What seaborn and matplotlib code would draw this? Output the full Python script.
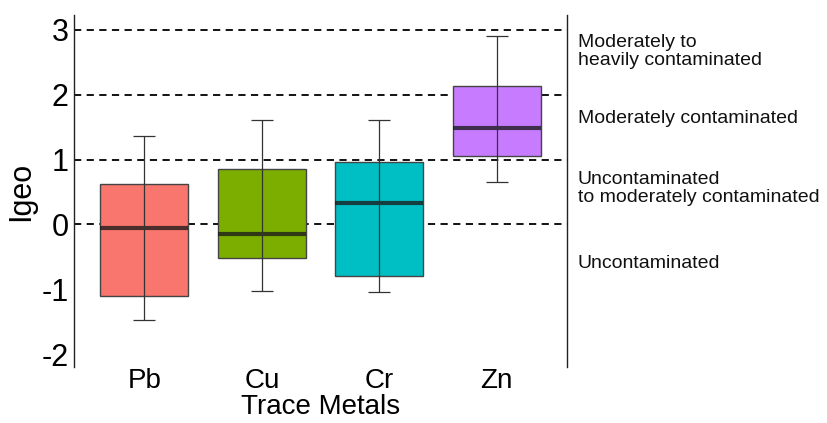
import numpy as np
import pandas as pd
import matplotlib
matplotlib.use("Agg")
import matplotlib.pyplot as plt
import seaborn as sns

# five-number summaries: min, q1, median, q3, max
metals = ["Pb", "Cu", "Cr", "Zn"]
pb = [-1.47, -1.10, -0.05, 0.63, 1.36]
cu = [-1.03, -0.52, -0.145, 0.85, 1.61]
cr = [-1.04, -0.80, 0.33, 0.96, 1.61]
zn = [0.66, 1.05, 1.49, 2.13, 2.91]
colors = ["#F8766D", "#7CAE00", "#00BFC4", "#C77CFF"]

class_levels = [3, 2, 1, 0]
class_labels = ["Moderately to\nheavily contaminated", "Moderately contaminated",
                "Uncontaminated\nto moderately contaminated", "Uncontaminated"]
class_label_y = [2.67, 1.63, 0.55, -0.6]

df = pd.DataFrame({
    "metal": np.repeat(metals, 5),
    "igeo": pb + cu + cr + zn,
})

sns.set_style("white")
plt.rcParams["font.family"] = ["Liberation Sans", "DejaVu Sans"]
plt.rcParams["axes.unicode_minus"] = False

fig = plt.figure(figsize=(8.27, 4.23), dpi=100)
ax = fig.add_axes([0.0895, 0.1324, 0.5961, 0.8321])

# dashed Igeo class boundaries
for lvl in class_levels:
    ax.axhline(lvl, color="black", linestyle=(0, (4, 3)), linewidth=1.3, zorder=0)

sns.boxplot(data=df, x="metal", y="igeo", hue="metal", palette=colors,
            order=metals, width=0.75, whis=1.5, saturation=1, legend=False,
            linewidth=1.0, linecolor="#444444", ax=ax,
            whiskerprops=dict(linewidth=0), capprops=dict(linewidth=0),
            medianprops=dict(color="#1a1a1a", alpha=0.78, linewidth=3),
            boxprops=dict(zorder=2))

# min-max error bars drawn over the boxes
groups = df.groupby("metal", sort=False)["igeo"]
lo = groups.min().reindex(metals).values
hi = groups.max().reindex(metals).values
mid = (lo + hi) / 2
ax.errorbar(np.arange(len(metals)), mid, yerr=[mid - lo, hi - mid], fmt="none",
            ecolor="#333333", elinewidth=0.9, capsize=8.0, capthick=0.9, zorder=4)

ax.set_xlim(-0.6, 3.6)
ax.set_ylim(-2.2, 3.23)
ax.set_yticks([-2, -1, 0, 1, 2, 3])
ax.tick_params(axis="y", labelsize=22, length=2, pad=2, labelcolor="black")
ax.tick_params(axis="x", labelsize=20, length=0, pad=1, labelcolor="black")
ax.set_xlabel("Trace Metals", fontsize=20, labelpad=-0.5, color="black")
ax.set_ylabel("Igeo", fontsize=22, labelpad=4, color="black")

for side in ["top", "bottom"]:
    ax.spines[side].set_visible(False)
for side in ["left", "right"]:
    ax.spines[side].set_color("#222222")
    ax.spines[side].set_linewidth(1.0)

for y, lab in zip(class_label_y, class_labels):
    ax.text(3.69, y, lab, fontsize=14, va="center", ha="left",
            linespacing=1.1, clip_on=False, color="#111111")

fig.savefig("out.png", dpi=100)
